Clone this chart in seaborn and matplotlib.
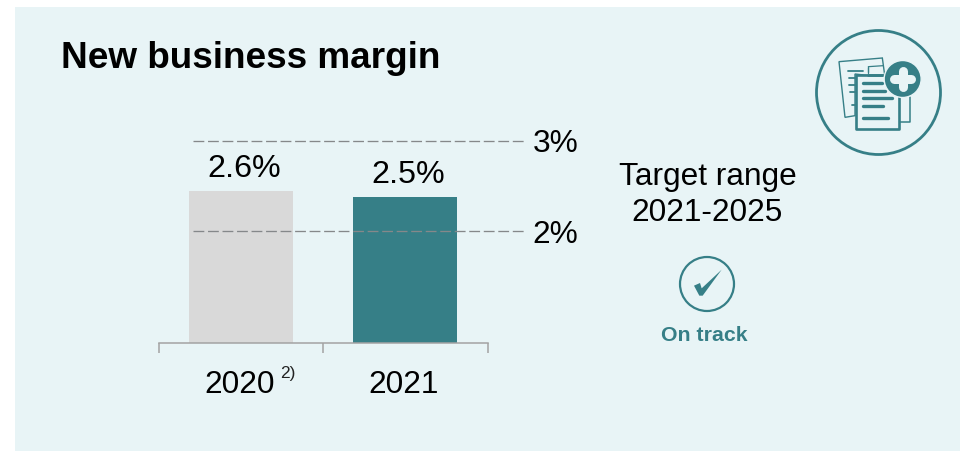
import numpy as np
import pandas as pd
import matplotlib
matplotlib.use("Agg")
import matplotlib.pyplot as plt
from matplotlib.patches import Circle, Polygon, Rectangle
from matplotlib.ticker import NullLocator
from matplotlib.transforms import ScaledTranslation
import seaborn as sns

# Chart values
years = ["2020", "2021"]
margins = [2.6, 2.5]
bar_labels = ["2.6%", "2.5%"]
target_levels = [3, 2]
target_labels = ["3%", "2%"]

TEAL = "#367F87"
GREY_BAR = "#D9D9D9"
PANEL = "#E8F4F6"
AXIS_GREY = "#A3A3A3"
DASH_GREY = "#85888A"

sns.set_theme(style="white")
plt.rcParams["font.family"] = ["Liberation Sans", "DejaVu Sans"]

W, H = 960, 452
fig = plt.figure(figsize=(W / 100, H / 100), dpi=100, facecolor="white")

# Full-size layer in pixel units for the panel, heading and icons
bg = fig.add_axes([0, 0, 1, 1], zorder=0)
bg.set_xlim(0, W)
bg.set_ylim(H, 0)
bg.axis("off")
bg.add_patch(Rectangle((15, 8), W - 15, H - 8, fc=PANEL, ec="none"))

# Plot area: baseline and category brackets
left, right, top, base = 158.5, 487.5, 100.0, 344.0
ax = fig.add_axes([left / W, 1 - base / H, (right - left) / W, (base - top) / H], zorder=1)
ax.patch.set_alpha(0)

# The value axis is schematic: heights are not proportional across the range
knots_val = np.array([0, 2, 2.5, 2.6, 3, 4])
knots_pos = np.array([0, 112.0, 146.5, 152.5, 202.0, 244.0])
ax.set_yscale(
    "function",
    functions=(
        lambda v: np.interp(v, knots_val, knots_pos),
        lambda p: np.interp(p, knots_pos, knots_val),
    ),
)

df = pd.DataFrame({"year": years, "margin": margins})
sns.barplot(
    data=df, x="year", y="margin", hue="year", palette=[GREY_BAR, TEAL],
    width=0.63, legend=False, dodge=False, ax=ax, saturation=1, linewidth=0,
)
ax.set_xlim(-0.5, 1.5)
ax.set_ylim(0, 4)
ax.set_xlabel("")
ax.set_ylabel("")
ax.set_yticks([])
ax.yaxis.set_minor_locator(NullLocator())

for s in ("top", "left", "right"):
    ax.spines[s].set_visible(False)
ax.spines["bottom"].set_color(AXIS_GREY)
ax.spines["bottom"].set_linewidth(1.1)

ax.set_xticks([0, 1])
ax.set_xticklabels(years, fontsize=22.8, color="black")
ax.tick_params(axis="x", which="major", bottom=False, length=0, pad=18.8)
ax.set_xticks([-0.5, 0.5, 1.5], minor=True)
ax.tick_params(axis="x", which="minor", bottom=True, length=7.2, width=1.1,
               color=AXIS_GREY, direction="out")
for label, shift in zip(ax.get_xticklabels(), (-0.7, -1.8)):
    label.set_transform(label.get_transform() + ScaledTranslation(shift / 100, 0, fig.dpi_scale_trans))

# Footnote marker beside the first year
ax.annotate("2)", xy=(0, 0), xycoords=ax.get_xaxis_transform(), xytext=(39, -30),
            textcoords="offset pixels", fontsize=12.4, color="#222222", ha="left", va="center")

# Value labels above the bars
for i, (v, lab) in enumerate(zip(margins, bar_labels)):
    ax.annotate(lab, xy=(i, v), xytext=(3, 7), textcoords="offset pixels",
                ha="center", va="bottom", fontsize=23.2, color="black")

# Target range lines, running past the plot area to their labels
for lvl, lab in zip(target_levels, target_labels):
    ax.plot([-0.292, 1.72], [lvl, lvl], color=DASH_GREY, lw=0.95,
            dashes=(8.2, 2.8), clip_on=False, zorder=5)
    nudge = 2 if lvl == 3 else 0
    ax.annotate(lab, xy=(1.78, lvl), xytext=(-1, nudge), textcoords="offset pixels",
                ha="left", va="center_baseline", fontsize=22.8, color="black",
                annotation_clip=False)

# Heading and side note
bg.text(61, 55, "New business margin", fontsize=26.6, fontweight="bold", color="black",
        ha="left", va="center_baseline")
bg.text(707.5, 174, "Target range", fontsize=22.8, color="black", ha="center", va="center_baseline")
bg.text(707, 210, "2021-2025", fontsize=22.8, color="black", ha="center", va="center_baseline")
bg.text(704, 334, "On track", fontsize=15.3, fontweight="bold", color=TEAL, ha="center", va="center_baseline")

# Status icon: tick in a ring
bg.add_patch(Circle((707, 285), 27, fc="none", ec=TEAL, lw=1.6))
tick_pts = [(222, 140), (240, 132), (245, 148), (305, 92), (248, 170), (238, 170)]
bg.add_patch(Polygon([(620 + x / 3, 240 + y / 3) for x, y in tick_pts], fc=TEAL, ec="none"))


# Document icon, sketched on a 3x grid anchored at (800, 20)
def g(x, y):
    return 800 + x / 3, 20 + y / 3


bg.add_patch(Circle((878.5, 93.5), 62, fc="none", ec=TEAL, lw=2.0))
back = [(117, 128), (247, 117), (255, 175), (165, 165), (165, 290), (135, 295)]
bg.add_patch(Polygon([g(*p) for p in back], closed=True, fc="none", ec=TEAL, lw=1.0))
bg.plot(*zip(g(205, 143), g(205, 160)), color=TEAL, lw=0.9)
bg.plot(*zip(g(205, 143), g(250, 140)), color=TEAL, lw=0.9)
bg.plot(*zip(g(330, 235), g(330, 310), g(300, 310)), color=TEAL, lw=1.1)
bg.add_patch(Polygon([g(167, 167), g(297, 167), g(297, 331), g(167, 331)], closed=True,
                     fc=PANEL, ec=TEAL, lw=1.9, joinstyle="round"))
bg.plot(*zip(g(205, 143), g(205, 163)), color=TEAL, lw=0.9)

for x0, x1, y in [(145, 190, 155), (147, 165, 177), (148, 165, 198), (150, 165, 220), (155, 165, 258)]:
    bg.plot(*zip(g(x0, y), g(x1, y)), color=TEAL, lw=1.3)
for x0, x1, y in [(190, 245, 192), (190, 255, 215), (190, 275, 238), (190, 250, 260), (190, 265, 297)]:
    bg.plot(*zip(g(x0, y), g(x1, y)), color=TEAL, lw=2.4, solid_capstyle="round")
bg.plot(*zip(g(205, 167), g(245, 167)), color=TEAL, lw=2.0)

bg.add_patch(Circle(g(308, 180), 18.5, fc=TEAL, ec=PANEL, lw=1.0, zorder=4))
bg.plot(*zip(g(308, 155), g(308, 203)), color=PANEL, lw=6.5, solid_capstyle="round", zorder=5)
bg.plot(*zip(g(283, 180), g(333, 180)), color=PANEL, lw=6.5, solid_capstyle="round", zorder=5)

fig.savefig("out.png", dpi=100, facecolor="white")
